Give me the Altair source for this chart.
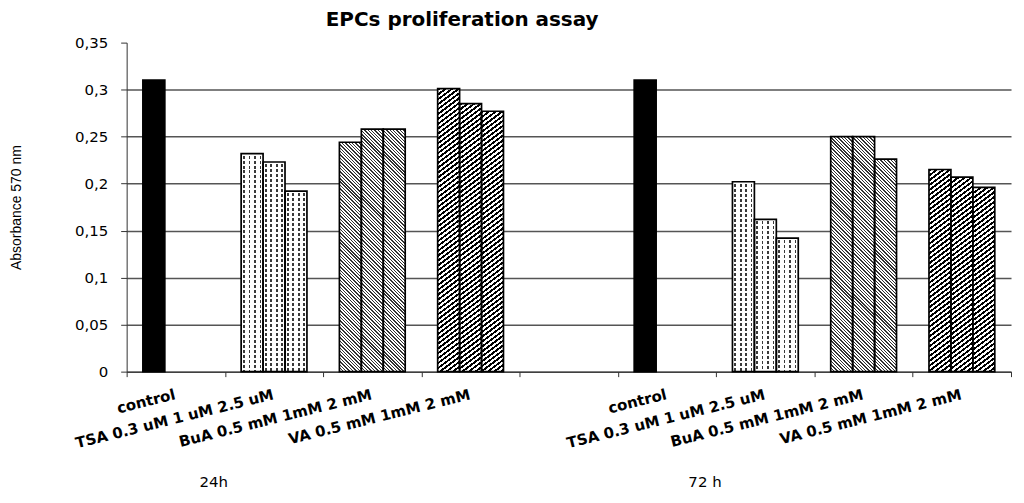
import altair as alt
import pandas as pd

# ---------------- data ----------------
time_points = ["24h", "72 h"]
treatment_labels = ["control", "TSA 0.3 uM 1 uM 2.5 uM", "BuA 0.5 mM 1mM 2 mM", "VA 0.5 mM 1mM 2 mM"]
treatment_codes = ["control", "TSA", "BuA", "VA"]
doses = ["d1", "d2", "d3"]

control_values = [0.310, 0.310]                       # 24h, 72 h
tsa_values = [[0.232, 0.223, 0.192], [0.202, 0.162, 0.142]]
bua_values = [[0.244, 0.258, 0.258], [0.250, 0.250, 0.226]]
va_values = [[0.301, 0.285, 0.277], [0.215, 0.207, 0.196]]

title_text = "EPCs proliferation assay"
y_title = "Absorbance 570 nm"
y_ticks = [0, 0.05, 0.1, 0.15, 0.2, 0.25, 0.3, 0.35]

# ---------------- table ----------------
keys = []
for ti, tp in enumerate(time_points):
    for lab in treatment_labels:
        keys.append(f"{lab}|{tp}")
    if ti == 0:
        keys.append("|gap")

rows = []
for ti, tp in enumerate(time_points):
    rows.append({"key": f"control|{tp}", "grp": "control", "dose": "d1", "value": control_values[ti]})
    for code, lab, vals in [("TSA", treatment_labels[1], tsa_values),
                            ("BuA", treatment_labels[2], bua_values),
                            ("VA", treatment_labels[3], va_values)]:
        for d, v in zip(doses, vals[ti]):
            rows.append({"key": f"{lab}|{tp}", "grp": code, "dose": d, "value": v})
df = pd.DataFrame(rows)
group_df = pd.DataFrame({"key": [f"control|{tp}" for tp in time_points], "t": time_points})

# ---------------- hatch patterns (Vega gradients) ----------------
P = 360.0
H = "(scale('y',0)-scale('y',datum.value))"
W = "bandwidth('xOffset')"


def stripe_stops(T, frac, on, off, total, start_off=0.0):
    parts = []
    t = 0.0
    while t < total:
        s = min(t + start_off * T, total)
        e = min(t + (start_off + frac) * T, total)
        n = min(t + T, total)
        for o, c in [(t, off), (s, off), (s, on), (e, on), (e, off), (n, off)]:
            parts.append("{'offset':%.5f,'color':'%s'}" % (o / total, c))
        t += T
    return "[" + ",".join(parts) + "]"


def diag(k, T, frac, color, backslash):
    D = f"({k*k}*{W}*{W}+{H}*{H})"
    a = f"({k}*{W}*{P}/{D})"
    b = f"({H}*{P}/{D})"
    stops = stripe_stops(T, frac, color, "white", P)
    if backslash:
        return ("{'gradient':'linear','x1':0,'y1':1,'x2':" + a + ",'y2':(1-" + b + "),'stops':" + stops + "}")
    return ("{'gradient':'linear','x1':0,'y1':0,'x2':" + a + ",'y2':" + b + ",'stops':" + stops + "}")


tsa_cols = ("{'gradient':'linear','x1':0,'y1':0,'x2':1,'y2':0,'stops':"
            + stripe_stops(0.25, 0.3, "#3a3a3a", "white", 1.0, start_off=0.35) + "}")
bua_fill = diag(1.0, 3.4, 0.42, "#333333", True)
va_fill = diag(0.75, 4.9, 0.48, "black", False)

fill_expr = ("datum.grp === 'control' ? 'black' : datum.grp === 'TSA' ? " + tsa_cols
             + " : datum.grp === 'BuA' ? " + bua_fill + " : " + va_fill)

mask_expr = ("{'gradient':'linear','x1':0,'y1':0,'x2':0,'y2':(" + f"{P}" + "/max(" + H + ",1)),'stops':"
             + stripe_stops(5.0, 0.4, "white", "rgba(255,255,255,0)", P) + "}")

# ---------------- encodings ----------------
x_enc = alt.X(
    "key:N",
    scale=alt.Scale(domain=keys, paddingInner=0, paddingOuter=0),
    axis=alt.Axis(
        title=None,
        labelExpr="isString(datum.value) ? split(datum.value, '|')[0] : ''",
        labelAngle=346,
        labelAlign="right",
        labelBaseline="alphabetic",
        labelPadding=22,
        labelFont="DejaVu Sans",
        labelFontSize=15,
        labelFontWeight="bold",
        labelColor="black",
        labelLimit=400,
        labelOverlap=False,
        tickBand="extent",
        tickSize=5,
        tickColor="#333333",
        domainColor="#333333",
        grid=False,
    ),
)
xoff_enc = alt.XOffset("dose:N", scale=alt.Scale(domain=doses, paddingInner=0, paddingOuter=0.74))
y_enc = alt.Y(
    "value:Q",
    stack=None,
    scale=alt.Scale(domain=[0, 0.35], nice=False),
    axis=alt.Axis(
        values=y_ticks,
        labelExpr="replace(format(datum.value, '~g'), '.', ',')",
        tickSize=6,
        labelPadding=13,
        labelFont="DejaVu Sans",
        labelFontSize=15,
        labelColor="black",
        domainColor="#333333",
        tickColor="#333333",
        gridColor={"condition": {"test": "datum.value > 0.34", "value": "rgba(0,0,0,0)"}, "value": "#555555"},
        gridWidth=1.5,
        title=y_title,
        titleFont="Liberation Sans",
        titleFontSize=14,
        titleFontWeight="normal",
        titleColor="black",
        titleX=-110,
        titleY=165,
        titleAngle=270,
        titleAlign="center",
        titleBaseline="middle",
    ),
)

base = alt.Chart(df)

fill_layer = base.mark_bar(strokeWidth=0).encode(
    x=x_enc, xOffset=xoff_enc, y=y_enc,
    fill=alt.value({"expr": fill_expr}),
)
mask_layer = base.transform_filter("datum.grp === 'TSA'").mark_bar(strokeWidth=0).encode(
    x=x_enc, xOffset=xoff_enc, y=y_enc,
    fill=alt.value({"expr": mask_expr}),
)
stroke_layer = base.mark_bar(fill="transparent", stroke="black", strokeWidth=1.7).encode(
    x=x_enc, xOffset=xoff_enc, y=y_enc,
)
group_text = alt.Chart(group_df).mark_text(
    font="DejaVu Sans", fontSize=15, align="center", baseline="bottom", dx=38, color="black"
).encode(
    x=alt.X("key:N"),
    y=alt.value(449),
    text="t:N",
)

chart = alt.layer(fill_layer, mask_layer, stroke_layer, group_text).properties(
    width=887,
    height=330,
    padding={"left": 119, "top": 34, "right": 5, "bottom": 120},
    autosize=alt.AutoSizeParams(type="none"),
    background="white",
    title=alt.TitleParams(
        title_text, font="DejaVu Sans", fontSize=20, fontWeight="bold", color="black",
        anchor="middle", dx=-107, offset=6,
    ),
).configure_view(strokeWidth=0)

chart.save("out.html", embed_options={"renderer": "svg", "actions": False})
